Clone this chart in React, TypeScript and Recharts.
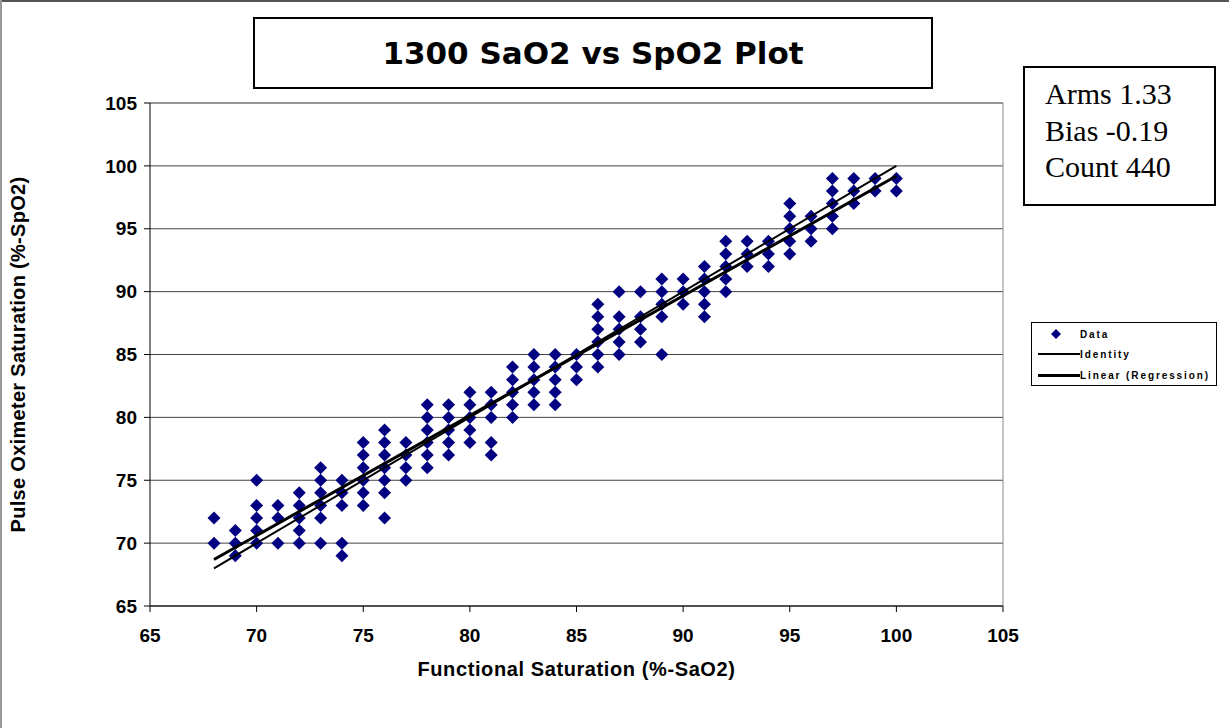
import React from 'react';
import { ScatterChart, Scatter, XAxis, YAxis, CartesianGrid, ReferenceLine, Legend, Label } from 'recharts';

// SaO2 (x) columns and the SpO2 (y) readings observed at each
const saO2Values = [68, 69, 70, 71, 72, 73, 74, 75, 76, 77, 78, 79, 80, 81, 82, 83, 84, 85, 86, 87, 88, 89, 90, 91, 92, 93, 94, 95, 96, 97, 98, 99, 100];
const spO2ByColumn = [
  [72, 70],
  [71, 70, 69],
  [75, 73, 72, 71, 70],
  [73, 72, 70],
  [74, 73, 72, 71, 70],
  [76, 75, 74, 73, 72, 70],
  [75, 74, 73, 70, 69],
  [78, 77, 76, 75, 74, 73],
  [79, 78, 77, 76, 75, 74, 72],
  [78, 77, 76, 75],
  [81, 80, 79, 78, 77, 76],
  [81, 80, 79, 78, 77],
  [82, 81, 80, 79, 78],
  [82, 81, 80, 78, 77],
  [84, 83, 82, 81, 80],
  [85, 84, 83, 82, 81],
  [85, 84, 83, 82, 81],
  [85, 84, 83],
  [89, 88, 87, 86, 85, 84],
  [90, 88, 87, 86, 85],
  [90, 88, 87, 86],
  [91, 90, 89, 88, 85],
  [91, 90, 89],
  [92, 91, 90, 89, 88],
  [94, 93, 92, 91, 90],
  [94, 93, 92],
  [94, 93, 92],
  [97, 96, 95, 94, 93],
  [96, 95, 94],
  [99, 98, 97, 96, 95],
  [99, 98, 97],
  [99, 98],
  [99, 98],
];

const identityX = [68, 100];
const identityY = [68, 100];
const regressionX = [68, 100];
const regressionY = [68.7, 99.2];

const xTicks = [65, 70, 75, 80, 85, 90, 95, 100, 105];
const yTicks = [65, 70, 75, 80, 85, 90, 95, 100, 105];

const statsLines = ['Arms 1.33', 'Bias -0.19', 'Count 440'];

const points = saO2Values.flatMap((x, i) => spO2ByColumn[i].map((y) => ({ x, y })));
const identityData = identityX.map((x, i) => ({ x, y: identityY[i] }));
const regressionData = regressionX.map((x, i) => ({ x, y: regressionY[i] }));

const SANS = '"Liberation Sans", Arial, sans-serif';
const NAVY = '#000080';

const Diamond = (props: any) => {
  const { cx, cy } = props;
  if (cx == null || cy == null) return <g />;
  const r = 6.5;
  return <polygon points={`${cx},${cy - r} ${cx + r},${cy} ${cx},${cy + r} ${cx - r},${cy}`} fill={NAVY} />;
};

const NoShape = () => <g />;

const legendText: React.CSSProperties = {
  fontFamily: SANS,
  fontWeight: 'bold',
  fontSize: 10,
  letterSpacing: 1.9,
  color: '#000',
  whiteSpace: 'nowrap',
};

const renderLegend = () => (
  <div
    style={{
      width: 184,
      height: 61,
      border: '1px solid #000',
      background: '#fff',
      boxSizing: 'content-box',
      paddingTop: 1,
    }}
  >
    {[
      { name: 'Data', kind: 'dot' },
      { name: 'Identity', kind: 'thin' },
      { name: 'Linear (Regression)', kind: 'thick' },
    ].map((it, i) => (
      <div key={it.name} style={{ display: 'flex', alignItems: 'center', height: i === 2 ? 22 : 20 }}>
        <div style={{ width: 48, display: 'flex', justifyContent: 'center', alignItems: 'center' }}>
          {it.kind === 'dot' ? (
            <svg width={10} height={10}>
              <polygon points="5,0 10,5 5,10 0,5" fill={NAVY} />
            </svg>
          ) : (
            <div style={{ width: 42, marginLeft: 6, height: it.kind === 'thin' ? 1.5 : 3, background: '#000' }} />
          )}
        </div>
        <span style={legendText}>{it.name}</span>
      </div>
    ))}
  </div>
);

const XTitle = (props: any) => {
  const vb = props.viewBox || {};
  return (
    <text x={vb.x + vb.width / 2} y={vb.y + 70} textAnchor="middle" fontFamily={SANS} fontWeight="bold" fontSize={20} letterSpacing={0.6} fill="#000">
      Functional Saturation (%-SaO2)
    </text>
  );
};

const YTitle = (props: any) => {
  const vb = props.viewBox || {};
  const cx = vb.x + 8;
  const cy = vb.y + vb.height / 2;
  return (
    <text x={cx} y={cy} transform={`rotate(-90 ${cx} ${cy})`} textAnchor="middle" dominantBaseline="central" fontFamily={SANS} fontWeight="bold" fontSize={20} letterSpacing={0.3} fill="#000">
      Pulse Oximeter Saturation (%-SpO2)
    </text>
  );
};

export default function App() {
  const tickStyle = { fill: '#000', fontSize: 19, fontWeight: 'bold', fontFamily: SANS };
  return (
    <div style={{ position: 'absolute', left: 0, top: 0, width: 1229, height: 728, background: '#fff', overflow: 'hidden' }}>
      <div style={{ position: 'absolute', left: 0, top: 0, width: 1229, height: 2, background: '#555' }} />
      <div style={{ position: 'absolute', left: 0, top: 0, width: 2, height: 728, background: '#999' }} />
      <ScatterChart width={1229} height={728} margin={{ top: 103, right: 226, bottom: 42, left: 10 }}>
        <CartesianGrid horizontal vertical={false} stroke="#444" />
        <XAxis
          type="number"
          dataKey="x"
          domain={[65, 105]}
          ticks={xTicks}
          interval={0}
          tickSize={6}
          tickMargin={17}
          height={80}
          axisLine={{ stroke: '#000' }}
          tickLine={{ stroke: '#000' }}
          tick={tickStyle}
          allowDataOverflow
        >
          <Label content={<XTitle />} />
        </XAxis>
        <YAxis
          type="number"
          dataKey="y"
          domain={[65, 105]}
          ticks={yTicks}
          interval={0}
          tickSize={6}
          tickMargin={7}
          width={140}
          axisLine={{ stroke: '#000' }}
          tickLine={{ stroke: '#000' }}
          tick={tickStyle}
          allowDataOverflow
        >
          <Label content={<YTitle />} />
        </YAxis>
        <ReferenceLine x={105} stroke="#888" />
        <ReferenceLine y={105} stroke="#888" />
        <Scatter name="Data" data={points} shape={<Diamond />} isAnimationActive={false} />
        <Scatter name="Identity" data={identityData} line={{ stroke: '#000', strokeWidth: 2 }} shape={<NoShape />} isAnimationActive={false} />
        <Scatter name="Linear (Regression)" data={regressionData} line={{ stroke: '#000', strokeWidth: 3 }} shape={<NoShape />} isAnimationActive={false} />
        <Legend
          layout="horizontal"
          verticalAlign="middle"
          align="center"
          content={renderLegend}
          wrapperStyle={{ position: 'absolute', left: 1031, top: 322, width: 186, height: 63 }}
        />
      </ScatterChart>
      <div
        style={{
          position: 'absolute',
          left: 253,
          top: 17,
          width: 680,
          height: 72,
          border: '2px solid #000',
          boxSizing: 'border-box',
          display: 'flex',
          alignItems: 'center',
          justifyContent: 'center',
          fontFamily: '"DejaVu Sans", Verdana, sans-serif',
          fontWeight: 'bold',
          fontSize: 31,
          color: '#000',
          background: '#fff',
        }}
      >
        1300 SaO2 vs SpO2 Plot
      </div>
      <div
        style={{
          position: 'absolute',
          left: 1023,
          top: 66,
          width: 193,
          height: 140,
          border: '2px solid #000',
          boxSizing: 'border-box',
          paddingLeft: 20,
          paddingTop: 8,
          fontFamily: '"Liberation Serif", "Times New Roman", serif',
          fontSize: 30,
          lineHeight: '36.5px',
          color: '#000',
          background: '#fff',
        }}
      >
        {statsLines.map((l) => (
          <div key={l}>{l}</div>
        ))}
      </div>
    </div>
  );
}
